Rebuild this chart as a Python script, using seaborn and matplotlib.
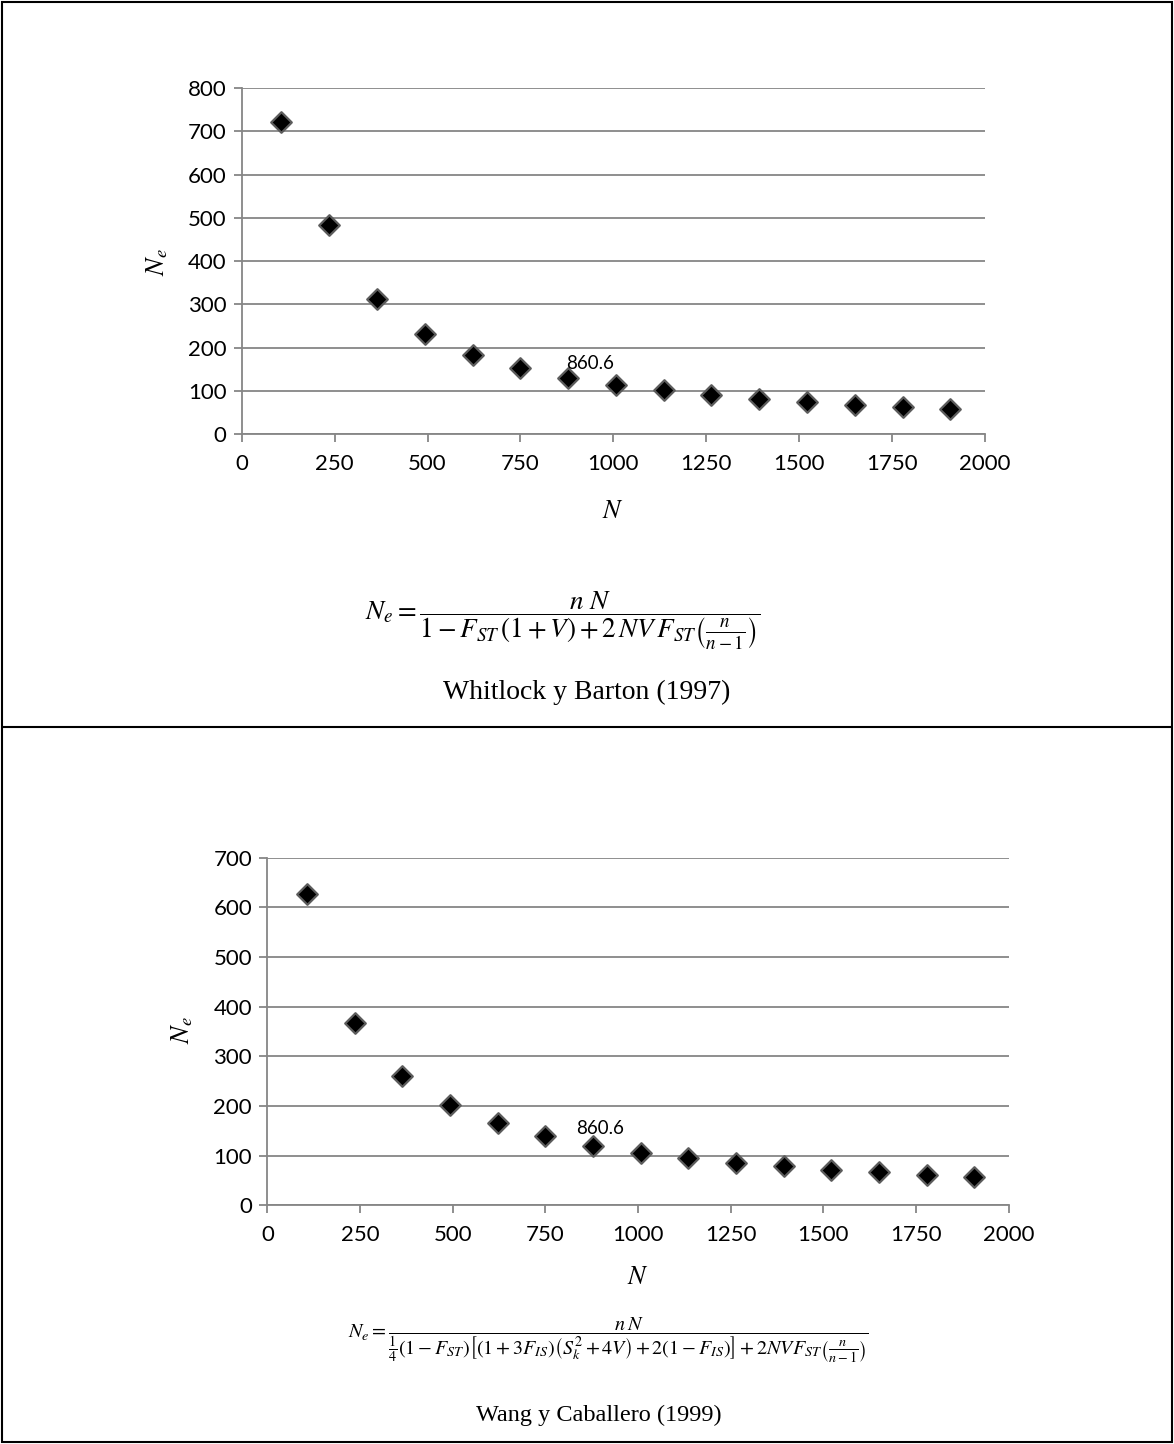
import matplotlib
matplotlib.use("Agg")
import matplotlib.pyplot as plt
import seaborn as sns
import pandas as pd
from matplotlib.patches import Rectangle
from matplotlib.lines import Line2D

# data
pop_size = [107, 236, 364, 493, 621, 750, 879, 1007, 1136, 1264, 1393, 1521, 1650, 1779, 1907]
ne_whitlock = [723, 483, 313, 231, 183, 153, 130, 113, 101, 90, 82, 75, 68, 63, 58]
ne_wang = [627, 368, 261, 203, 165, 140, 120, 106, 95, 85, 79, 72, 67, 61, 58]
x_ticks = [0, 250, 500, 750, 1000, 1250, 1500, 1750, 2000]
label_text = "860.6"
label_idx = 6

formula_1 = (r"$N_e = \dfrac{n\ N}{1 - F_{ST}\,\left(1+V\right) + 2\,N V\,F_{ST}"
             r"\left(\frac{n}{n-1}\right)}$")
formula_2 = (r"$N_e = \dfrac{n\,N}{\frac{1}{4}\left(1-F_{ST}\right)\left[\left(1+3F_{IS}\right)"
             r"\left(S_k^2+4V\right)+2\left(1-F_{IS}\right)\right]+2NVF_{ST}"
             r"\left(\frac{n}{n-1}\right)}$")

sns.set_theme(style="white")
plt.rcParams["font.family"] = ["Lato", "DejaVu Sans"]
plt.rcParams["mathtext.fontset"] = "stix"
plt.rcParams["text.color"] = "black"

grid_col = "#868686"

fig = plt.figure(figsize=(11.74, 14.44), dpi=100)


def panel(rect, ne, ymax, lab_off):
    ax = fig.add_axes(rect)
    df = pd.DataFrame({"N": pop_size, "Ne": ne})
    sns.scatterplot(data=df, x="N", y="Ne", marker="D", s=110, color="black",
                    edgecolor="#5c5c5c", linewidth=1.6, ax=ax, zorder=3, clip_on=False)
    ax.set_xlim(0, 2000)
    ax.set_ylim(0, ymax)
    ax.set_xticks(x_ticks)
    ax.set_yticks(range(0, ymax + 1, 100))
    ax.yaxis.grid(True, color=grid_col, linewidth=1.3)
    ax.set_axisbelow(True)
    for s in ["top", "right"]:
        ax.spines[s].set_visible(False)
    for s in ["left", "bottom"]:
        ax.spines[s].set_color(grid_col)
        ax.spines[s].set_linewidth(1.3)
    ax.tick_params(axis="both", which="both", length=6, width=1.3, color=grid_col,
                   labelsize=16, labelcolor="black", direction="out",
                   bottom=True, left=True)
    ax.tick_params(axis="x", pad=8)
    ax.tick_params(axis="y", pad=5)
    ax.set_xlabel("")
    ax.set_ylabel("")
    ax.annotate(label_text, (pop_size[label_idx], ne[label_idx]), xytext=lab_off,
                textcoords="offset pixels", ha="center", va="center", fontsize=13.5,
                color="black")
    return ax


panel([0.2059, 0.6994, 0.6331, 0.2395], ne_whitlock, 800, (21.5, 14.7))
panel([0.2277, 0.1652, 0.6315, 0.2409], ne_wang, 700, (7, 17))

serif = ["Liberation Serif", "DejaVu Serif"]

# axis labels
fig.text(0.1335, 0.8188, r"$N_e$", rotation=90, ha="center", va="center", fontsize=19)
fig.text(0.5224, 0.6468, r"$N$", ha="center", va="center", fontsize=19)
fig.text(0.1548, 0.2867, r"$N_e$", rotation=90, ha="center", va="center", fontsize=19)
fig.text(0.5437, 0.1159, r"$N$", ha="center", va="center", fontsize=19)

# formulas and references
fig.text(0.4796, 0.570, formula_1, ha="center", va="center", fontsize=19.5)
fig.text(0.4997, 0.5208, "Whitlock y Barton (1997)", ha="center", va="center",
         fontsize=20, family=serif)
fig.text(0.5179, 0.0720, formula_2, ha="center", va="center", fontsize=14.5)
fig.text(0.510, 0.0201, "Wang y Caballero (1999)", ha="center", va="center",
         fontsize=17.5, family=serif)

# outer frame and separator
fig.add_artist(Rectangle((0.002, 0.0015), 0.996, 0.997, transform=fig.transFigure,
                         fill=False, edgecolor="black", linewidth=1.5))
fig.add_artist(Line2D([0.002, 0.998], [0.4965, 0.4965], transform=fig.transFigure,
                      color="black", linewidth=1.5))

fig.savefig("out.png", dpi=100)
plt.close(fig)
